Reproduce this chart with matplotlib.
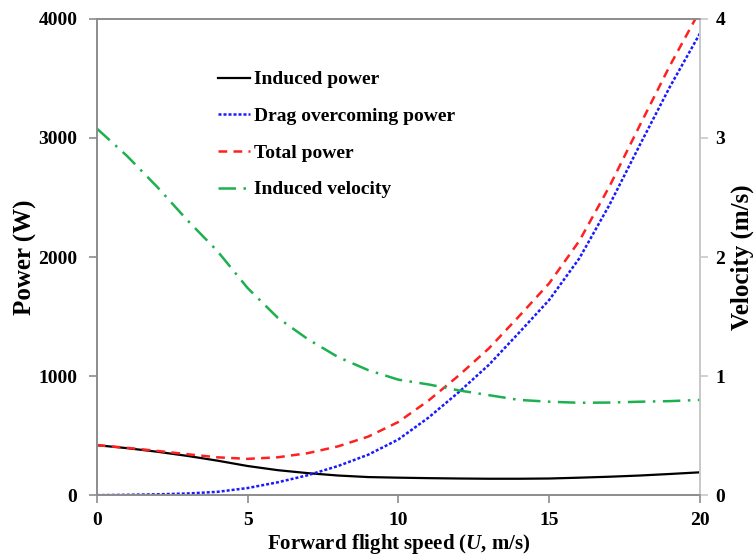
import matplotlib
matplotlib.use("Agg")
import matplotlib.pyplot as plt

plt.rcParams['font.family'] = ['Liberation Serif', 'DejaVu Serif']
plt.rcParams['font.weight'] = 'bold'
plt.rcParams['mathtext.fontset'] = 'custom'
plt.rcParams['mathtext.rm'] = 'Liberation Serif:bold'
plt.rcParams['mathtext.it'] = 'Liberation Serif:italic:bold'

# forward flight speed (m/s)
speed = [0, 1, 2, 3, 4, 5, 6, 7, 8, 9, 10, 11, 12, 13, 14, 15, 16, 17, 18, 19, 20]
# power (W)
induced_power = [420, 395, 365, 330, 290, 245, 210, 185, 165, 152, 147, 143, 140, 138,
                 138, 140, 147, 155, 165, 178, 192]
drag_power = [0, 3, 7, 14, 28, 60, 108, 168, 245, 340, 468, 652, 865, 1095, 1365,
              1640, 1990, 2440, 2940, 3430, 3880]
total_power = [420, 398, 372, 344, 318, 305, 318, 353, 410, 492, 615, 795, 1005, 1233,
               1503, 1780, 2137, 2595, 3105, 3608, 4072]
# induced velocity (m/s)
induced_velocity = [3.08, 2.85, 2.59, 2.31, 2.05, 1.74, 1.49, 1.31, 1.16, 1.05, 0.97,
                    0.93, 0.88, 0.84, 0.80, 0.785, 0.776, 0.778, 0.785, 0.79, 0.80]

fig = plt.figure(figsize=(7.56, 5.57), dpi=100)
ax = fig.add_axes([0.128, 0.111, 0.798, 0.855])
ax2 = ax.twinx()

l1, = ax.plot(speed, induced_power, color='black', lw=1.6, ls='-')
l2, = ax.plot(speed, drag_power, color='#1a1aff', lw=1.8, ls=(0, (1.2, 0.8)))
l3, = ax.plot(speed, total_power, color='#ff2020', lw=1.8, ls=(0, (3.5, 2.5)))
l4, = ax2.plot(speed, induced_velocity, color='#1db04f', lw=1.8,
               ls=(0, (7, 3, 1, 3)))

ax.set_xlim(0, 20)
ax.set_ylim(0, 4000)
ax2.set_ylim(0, 4)
ax.set_xticks([0, 5, 10, 15, 20])
ax.set_yticks([0, 1000, 2000, 3000, 4000])
ax2.set_yticks([0, 1, 2, 3, 4])

for s in ['left', 'bottom', 'top']:
    ax.spines[s].set_color('#8c8c8c')
    ax2.spines[s].set_color('#8c8c8c')
ax.spines['right'].set_color('#c8c8c8')
ax2.spines['right'].set_color('#c8c8c8')
for s in ax.spines.values():
    s.set_linewidth(1.2)
for s in ax2.spines.values():
    s.set_linewidth(1.2)

ax.tick_params(axis='both', direction='out', length=6, width=1.2, color='#8c8c8c',
               labelsize=14, pad=6)
ax.tick_params(axis='y', pad=8)
ax2.tick_params(axis='y', direction='out', length=6, width=1.2, color='#c8c8c8',
                labelsize=14, pad=5)
for lab in ax.get_xticklabels() + ax.get_yticklabels() + ax2.get_yticklabels():
    lab.set_fontweight('bold')

ax.set_xlabel(r'Forward flight speed ($U$, m/s)', fontsize=15, fontweight='bold', labelpad=2)
ax.set_ylabel('Power (W)', fontsize=18, fontweight='bold', labelpad=1)
ax2.set_ylabel('Velocity (m/s)', fontsize=18, fontweight='bold', labelpad=4)

fig.legend([l1, l2, l3, l4],
           ['Induced power', 'Drag overcoming power', 'Total power', 'Induced velocity'],
           loc='upper left', bbox_to_anchor=(0.288, 0.873), frameon=False,
           fontsize=14, handlelength=1.65, handletextpad=0.2, labelspacing=0.98,
           borderpad=0, borderaxespad=0)

fig.savefig('out.png', dpi=100)
